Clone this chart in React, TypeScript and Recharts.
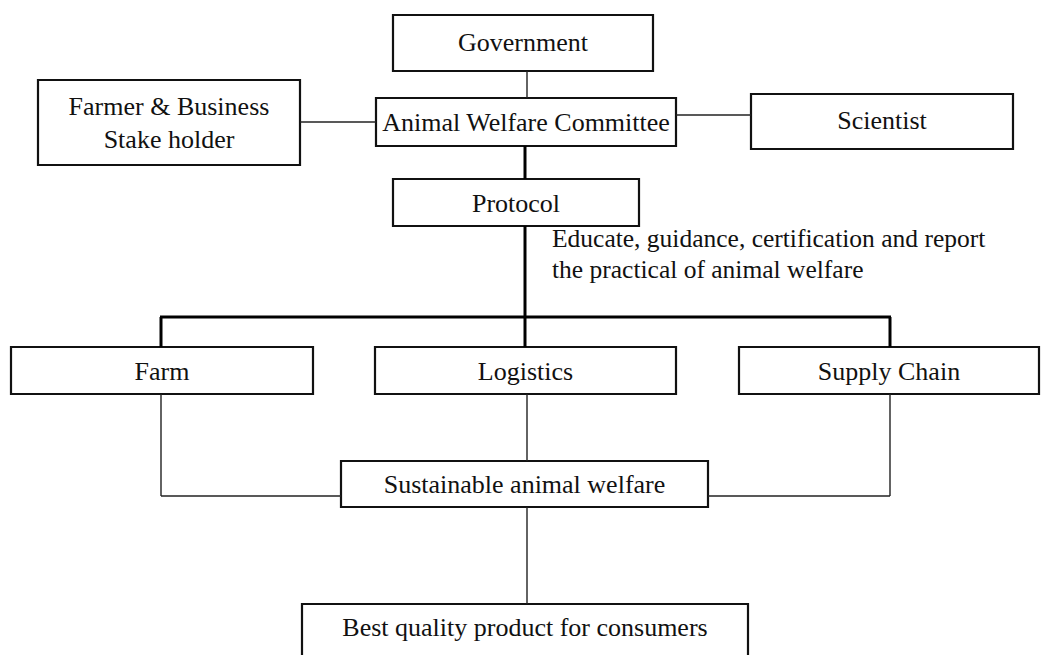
import React from "react";
import { ComposedChart, Scatter, XAxis, YAxis, ReferenceArea, ReferenceLine } from "recharts";

// diagram coordinate space = 1041 x 655, y grows downward
const boxNames = [
  "Government",
  "Farmer & Business|Stake holder",
  "Animal Welfare Committee",
  "Scientist",
  "Protocol",
  "Farm",
  "Logistics",
  "Supply Chain",
  "Sustainable animal welfare",
  "Best quality product for consumers",
];
const boxLeft = [393, 38, 376, 751, 393, 11, 375, 739, 341, 302];
const boxRight = [653, 300, 676, 1013, 639, 313, 676, 1039, 708, 748];
const boxTop = [15, 80, 98, 94, 179, 347, 347, 347, 461, 604];
const boxBottom = [71, 165, 146, 149, 226, 394, 394, 394, 507, 668];

// text baselines (first line) for each box
const labelBaseline = [51, 115, 131, 129, 212, 380, 380, 380, 493, 636];

const noteLines = ["Educate, guidance, certification and report", "the practical of animal welfare"];
const noteX = 552;
const noteBaseline = 247;

// connectors: [x1, y1, x2, y2]
const thinLinks = [
  [527, 71, 527, 98],
  [300, 122, 376, 122],
  [676, 115, 751, 115],
  [527, 394, 527, 461],
  [161, 394, 161, 496],
  [161, 496, 341, 496],
  [890, 394, 890, 496],
  [708, 496, 890, 496],
  [527, 507, 527, 604],
];
const thickLinks = [
  [525, 146, 525, 179],
  [525, 226, 525, 318],
  [160, 317, 891, 317],
  [161, 317, 161, 347],
  [525, 317, 525, 347],
  [890, 317, 890, 347],
];

const FONT = "Liberation Serif";

const labels = [
  ...boxNames.map((name, i) => ({
    x: (boxLeft[i] + boxRight[i]) / 2,
    y: labelBaseline[i],
    lines: name.split("|"),
    anchor: "middle",
    gap: 33,
    size: 26,
  })),
  { x: noteX, y: noteBaseline, lines: noteLines, anchor: "start", gap: 31, size: 25.5 },
];

const LabelShape = (props: any) => {
  const { cx, cy, payload } = props;
  return (
    <text
      x={cx}
      y={cy}
      textAnchor={payload.anchor}
      style={{ fontFamily: FONT, fontSize: payload.size }}
      fill="#111"
    >
      {payload.lines.map((l: string, i: number) => (
        <tspan key={i} x={cx} y={cy + i * payload.gap}>
          {l}
        </tspan>
      ))}
    </text>
  );
};

export default function App() {
  return (
    <div style={{ position: "absolute", left: 0, top: 0, background: "#fff", fontFamily: FONT }}>
      <ComposedChart width={1041} height={655} data={labels} margin={{ top: 0, right: 0, bottom: 0, left: 0 }}>
        <XAxis type="number" dataKey="x" domain={[0, 1041]} hide />
        <YAxis type="number" dataKey="y" domain={[0, 655]} reversed hide allowDataOverflow />
        {thinLinks.map((s, i) => (
          <ReferenceLine
            key={"t" + i}
            segment={[{ x: s[0], y: s[1] }, { x: s[2], y: s[3] }]}
            stroke="#222"
            strokeWidth={1.4}
            ifOverflow="visible"
          />
        ))}
        {thickLinks.map((s, i) => (
          <ReferenceLine
            key={"k" + i}
            segment={[{ x: s[0], y: s[1] }, { x: s[2], y: s[3] }]}
            stroke="#000"
            strokeWidth={3}
            ifOverflow="visible"
          />
        ))}
        {boxNames.map((n, i) => (
          <ReferenceArea
            key={n}
            x1={boxLeft[i]}
            x2={boxRight[i]}
            y1={boxTop[i]}
            y2={boxBottom[i]}
            fill="#fff"
            fillOpacity={1}
            stroke="#111"
            strokeWidth={2.2}
            ifOverflow="visible"
          />
        ))}
        <Scatter dataKey="y" shape={<LabelShape />} isAnimationActive={false} />
      </ComposedChart>
    </div>
  );
}
